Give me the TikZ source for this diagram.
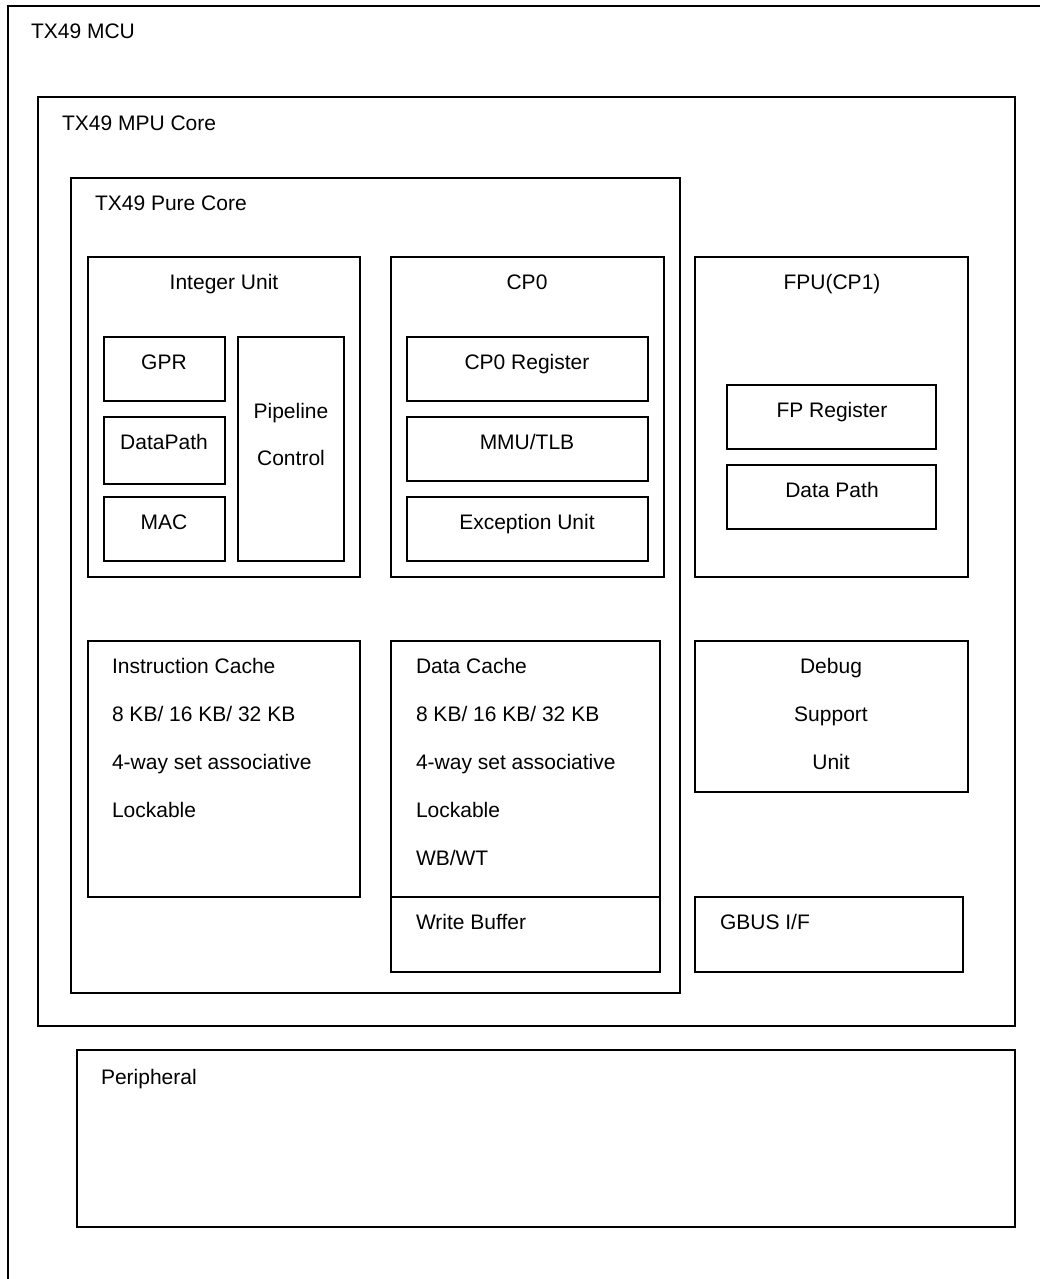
\documentclass[tikz,border=0pt]{standalone}
\usepackage{fontspec}
\setmainfont{Liberation Sans}
\begin{document}
\begin{tikzpicture}[x=1pt,y=-1pt,
  box/.style={draw=black, line width=1.6pt, inner sep=0pt, outer sep=0pt},
  lbl/.style={inner sep=0pt, outer sep=0pt, font=\fontsize{21}{25}\selectfont}]
\useasboundingbox (0,0) rectangle (1040,1279);
\newcommand\bx[5]{\node[box, minimum width={(#4-#2)*1pt}, minimum height={(#5-#3)*1pt}] (#1) at ({(#2+#4)/2},{(#3+#5)/2}) {};}
% boxes
\bx{mcu}{8}{6}{1070}{1310}
\bx{mpu}{38}{97}{1015}{1026}
\bx{pure}{71}{178}{680}{993}
\bx{iu}{88}{257}{360}{577}
\bx{gpr}{104}{337}{225}{401}
\bx{dp}{104}{417}{225}{484}
\bx{mac}{104}{497}{225}{561}
\bx{pipe}{238}{337}{344}{561}
\bx{cpz}{391}{257}{664}{577}
\bx{cpzreg}{407}{337}{648}{401}
\bx{mmu}{407}{417}{648}{481}
\bx{exc}{407}{497}{648}{561}
\bx{fpu}{695}{257}{968}{577}
\bx{fpreg}{727}{385}{936}{449}
\bx{fpdp}{727}{465}{936}{529}
\bx{icache}{88}{641}{360}{897}
\bx{dcache}{391}{641}{660}{897}
\bx{wbuf}{391}{897}{660}{972}
\bx{dbg}{695}{641}{968}{792}
\bx{gbus}{695}{897}{963}{972}
\bx{peri}{77}{1050}{1015}{1227}
% labels
\node[lbl, anchor=base west] (tmcu) at (31,39) {TX49 MCU};
\node[lbl, anchor=base west] (tmpu) at (62,131) {TX49 MPU Core};
\node[lbl, anchor=base west] (tpure) at (95,210) {TX49 Pure Core};
\node[lbl, anchor=base] (tiu) at (224,289) {Integer Unit};
\node[lbl, anchor=base] (tgpr) at (164,369) {GPR};
\node[lbl, anchor=base] (tdp) at (164,449) {DataPath};
\node[lbl, anchor=base] (tmac) at (164,529) {MAC};
\node[lbl, anchor=base] (tpipe1) at (291,418) {Pipeline};
\node[lbl, anchor=base] (tpipe2) at (291,465) {Control};
\node[lbl, anchor=base] (tcpz) at (527,289) {CP0};
\node[lbl, anchor=base] (tcpzreg) at (527,369) {CP0 Register};
\node[lbl, anchor=base] (tmmu) at (527,449) {MMU/TLB};
\node[lbl, anchor=base] (texc) at (527,529) {Exception Unit};
\node[lbl, anchor=base] (tfpu) at (832,289) {FPU(CP1)};
\node[lbl, anchor=base] (tfpreg) at (832,417) {FP Register};
\node[lbl, anchor=base] (tfpdp) at (832,497) {Data Path};
\node[lbl, anchor=base west] (ti1) at (112,673) {Instruction Cache};
\node[lbl, anchor=base west] (ti2) at (112,721) {8 KB/ 16 KB/ 32 KB};
\node[lbl, anchor=base west] (ti3) at (112,769) {4-way set associative};
\node[lbl, anchor=base west] (ti4) at (112,817) {Lockable};
\node[lbl, anchor=base west] (td1) at (416,673) {Data Cache};
\node[lbl, anchor=base west] (td2) at (416,721) {8 KB/ 16 KB/ 32 KB};
\node[lbl, anchor=base west] (td3) at (416,769) {4-way set associative};
\node[lbl, anchor=base west] (td4) at (416,817) {Lockable};
\node[lbl, anchor=base west] (td5) at (416,865) {WB/WT};
\node[lbl, anchor=base west] (twb) at (416,929) {Write Buffer};
\node[lbl, anchor=base] (tdbg1) at (831,673) {Debug};
\node[lbl, anchor=base] (tdbg2) at (831,721) {Support};
\node[lbl, anchor=base] (tdbg3) at (831,769) {Unit};
\node[lbl, anchor=base west] (tgbus) at (720,929) {GBUS I/F};
\node[lbl, anchor=base west] (tperi) at (101,1084) {Peripheral};
\end{tikzpicture}
\end{document}
